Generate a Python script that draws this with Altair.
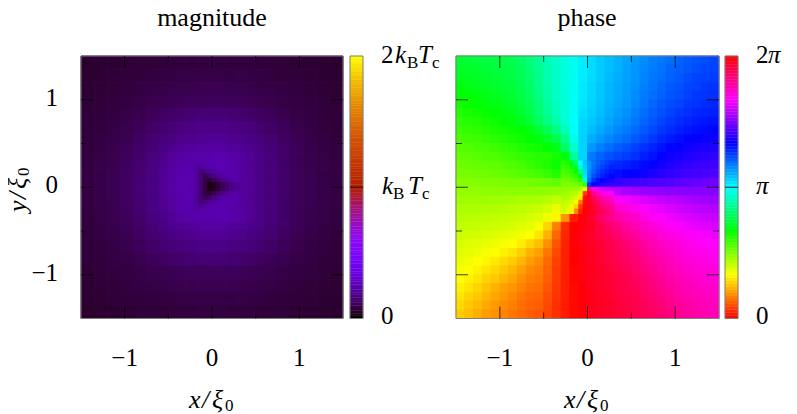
import altair as alt
import pandas as pd

FONT = "Liberation Serif"

# Grid edges in units of xi_0
grid_edges = [-1.5, -1.35, -1.2, -1.05, -0.9, -0.75, -0.6, -0.5, -0.4, -0.3, -0.2, -0.1, 0,
              0.1, 0.2, 0.3, 0.4, 0.5, 0.6, 0.75, 0.9, 1.05, 1.2, 1.35, 1.5]
phase_edges = [-1.5, -1.4, -1.3, -1.2, -1.1, -1.0, -0.9, -0.8, -0.7, -0.6, -0.5, -0.4, -0.3, -0.2, -0.1, 0,
               0.1, 0.2, 0.3, 0.4, 0.5, 0.6, 0.7, 0.8, 0.9, 1.0, 1.1, 1.2, 1.3, 1.4, 1.5]
core_edges = [-0.3, -0.25, -0.2, -0.15, -0.1, -0.05, 0, 0.05, 0.1, 0.15, 0.2, 0.25, 0.3]

# Magnitude (thousandths of the colour range), rows top to bottom
magnitude_rows = [
    [29,31,33,34,36,37,38,39,40,40,41,41,41,41,40,40,39,38,37,36,34,33,31,29],
    [31,33,35,37,38,40,42,43,44,45,45,45,45,45,45,44,43,42,40,38,37,35,33,31],
    [33,35,37,39,42,44,46,48,49,50,51,52,52,51,50,49,48,46,44,42,39,37,35,33],
    [34,37,39,42,45,49,52,54,56,58,58,59,59,58,58,56,54,52,49,45,42,39,37,34],
    [36,38,42,45,50,57,62,66,69,72,74,75,75,74,72,69,66,62,57,50,45,42,38,36],
    [37,40,44,49,57,65,72,77,81,84,87,88,88,87,84,81,77,72,65,57,49,44,40,37],
    [38,42,46,52,62,72,79,85,91,95,98,100,100,98,95,91,85,79,72,62,52,46,42,38],
    [39,43,48,56,66,76,85,92,98,104,108,110,110,108,104,98,92,85,76,66,56,48,43,39],
    [40,44,49,58,68,80,90,102,112,115,119,118,119,122,116,108,97,88,78,66,56,49,44,40],
    [41,45,50,60,71,83,94,107,117,120,100,115,122,125,118,108,98,88,78,66,57,50,45,41],
    [42,46,51,61,73,85,97,110,120,122,88,70,95,115,117,108,98,89,79,67,58,51,46,42],
    [42,46,52,62,74,86,98,112,122,124,88,25,30,55,85,102,97,89,79,67,58,52,46,42],
    [42,46,52,62,74,86,98,112,122,124,88,25,30,55,85,102,97,89,79,67,58,52,46,42],
    [42,46,51,61,73,85,97,110,120,122,88,70,95,115,117,108,98,89,79,67,58,51,46,42],
    [41,45,50,60,71,83,94,107,117,120,100,115,122,125,118,108,98,88,78,66,57,50,45,41],
    [40,44,49,58,68,80,90,102,112,115,119,118,119,122,116,108,97,88,78,66,56,49,44,40],
    [39,43,48,56,66,76,85,92,98,104,108,110,110,108,104,98,92,85,76,66,56,48,43,39],
    [38,42,46,52,62,72,79,85,91,95,98,100,100,98,95,91,85,79,72,62,52,46,42,38],
    [37,40,44,49,57,65,72,77,81,84,87,88,88,87,84,81,77,72,65,57,49,44,40,37],
    [36,38,42,45,50,57,62,66,69,72,74,75,75,74,72,69,66,62,57,50,45,42,38,36],
    [34,37,39,42,45,49,52,54,56,58,58,59,59,58,58,56,54,52,49,45,42,39,37,34],
    [33,35,37,39,42,44,46,48,49,50,51,52,52,51,50,49,48,46,44,42,39,37,35,33],
    [31,33,35,37,38,40,42,43,44,45,45,45,45,45,45,44,43,42,40,38,37,35,33,31],
    [29,31,33,34,36,37,38,39,40,40,41,41,41,41,40,40,39,38,37,36,34,33,31,29],
]
magnitude_core = [
    [118,117,112,118,121,122,123,124,124,121,117,112],
    [121,118,106,98,111,118,121,123,125,123,118,114],
    [124,120,105,76,85,98,111,118,121,122,120,116],
    [124,120,105,76,52,69,85,98,111,118,120,118],
    [124,120,105,76,44,35,53,70,86,99,111,116],
    [124,120,105,76,44,12,18,35,53,70,86,98],
    [124,120,105,76,44,12,18,35,53,70,86,98],
    [124,120,105,76,44,35,53,70,86,99,111,116],
    [124,120,105,76,52,69,85,98,111,118,120,118],
    [124,120,105,76,85,98,111,118,121,122,120,116],
    [121,118,106,98,111,118,121,123,125,123,118,114],
    [118,117,112,118,121,122,123,124,124,121,117,112],
]

# Phase (degrees of the colour wheel), rows top to bottom
phase_rows = [
    [132,133,134,135,136,137,139,143,148,155,163,168,172,177,184,188,192,195,198,201,204,207,210,212,214,217,219,221,222,224],
    [129,130,131,133,134,135,137,141,147,154,162,167,172,177,184,188,192,195,198,202,205,208,211,213,216,218,220,222,224,225],
    [126,127,129,131,132,134,136,140,145,153,161,167,172,177,184,188,192,196,199,202,205,209,212,214,217,219,222,224,225,226],
    [123,124,126,128,130,132,134,138,144,152,160,166,172,177,185,189,193,197,200,203,206,210,213,216,219,221,224,225,227,228],
    [120,121,123,125,127,129,132,136,142,150,159,166,171,177,185,189,193,197,200,203,207,211,214,217,220,222,225,227,228,229],
    [117,118,120,122,124,126,129,134,140,148,157,165,171,178,186,190,194,198,201,204,208,212,216,219,222,224,227,228,230,231],
    [113,115,117,119,121,123,126,131,137,146,155,163,171,179,187,191,195,199,203,206,210,214,218,221,224,227,229,231,232,233],
    [110,111,113,115,117,120,123,127,133,142,151,160,170,180,189,193,197,201,205,208,212,216,220,224,227,230,232,234,235,236],
    [107,108,110,112,114,116,118,120,124,131,140,150,163,178,190,195,200,204,208,211,215,219,223,227,230,233,235,237,238,239],
    [103,105,106,108,110,112,114,117,120,123,129,137,152,175,190,199,204,208,212,215,219,223,227,231,234,237,239,241,242,243],
    [100,101,103,104,106,108,110,113,115,117,120,126,143,168,190,204,210,214,218,221,225,229,232,236,239,241,243,245,246,247],
    [97,98,99,101,102,104,106,108,110,111,112,116,122,155,190,211,217,221,224,226,229,233,236,240,243,245,247,249,250,251],
    [94,95,96,97,98,100,102,104,107,110,113,118,125,150,195,221,225,229,231,233,235,238,241,244,247,249,251,253,254,255],
    [92,92,93,94,95,96,98,100,102,104,107,112,122,140,205,228,232,235,237,239,241,243,246,249,251,253,255,256,257,258],
    [89,89,89,90,90,91,92,92,93,94,95,97,100,115,190,235,245,250,252,254,255,256,257,258,259,261,262,264,265,266],
    [86,86,86,87,87,87,87,87,87,87,86,85,85,75,30,300,295,288,283,280,278,276,275,274,273,273,272,272,271,271],
    [83,83,83,83,82,82,81,80,80,79,77,74,68,50,15,335,318,308,302,298,295,292,289,287,285,283,281,279,278,277],
    [80,80,80,79,79,78,77,76,75,73,70,65,50,22,3,345,330,320,313,308,304,300,297,294,292,289,287,285,283,282],
    [77,77,76,76,75,74,73,72,70,68,63,58,35,6,358,350,338,329,322,316,312,307,303,300,297,294,292,290,288,287],
    [75,74,74,73,72,71,70,68,66,62,50,30,10,0,356,352,343,335,329,323,318,313,309,305,302,299,297,294,293,292],
    [72,71,70,69,68,66,65,63,60,54,42,24,9,359,355,350,345,340,334,328,323,318,314,310,307,304,302,299,298,296],
    [70,68,67,65,64,62,60,56,50,45,34,20,8,359,355,351,347,343,338,333,328,323,318,314,311,308,305,303,301,300],
    [68,66,64,62,60,57,54,49,42,38,28,17,7,0,356,352,348,344,340,335,331,326,321,317,314,311,308,306,304,303],
    [65,63,60,58,55,52,48,43,37,33,25,15,7,0,356,352,349,345,341,337,333,329,324,320,316,313,310,308,306,305],
    [62,60,57,54,51,47,43,38,33,30,23,14,7,1,357,353,350,347,343,340,336,331,327,322,318,315,313,310,309,308],
    [60,57,54,50,47,43,39,34,30,28,22,14,7,1,357,353,351,348,345,342,338,334,329,325,321,317,315,312,311,310],
    [57,54,50,46,42,38,35,31,27,26,20,13,7,2,358,353,351,348,345,342,339,335,331,327,323,320,317,315,313,312],
    [54,50,47,43,39,36,32,28,25,24,18,12,7,2,358,354,352,349,346,344,341,338,334,330,326,322,319,317,315,314],
    [51,47,44,40,36,33,30,26,23,22,17,11,6,2,358,354,352,350,347,345,342,339,336,332,328,324,321,319,317,316],
    [48,45,41,37,34,31,28,25,22,20,16,11,6,2,358,354,352,350,347,345,342,340,337,334,330,326,323,320,318,317],
]
phase_core = [
    [110,114,125,149,180,193,205,212,217,221,225,228],
    [106,110,116,131,171,192,205,214,220,224,228,232],
    [102,106,110,118,153,189,207,216,224,228,232,235],
    [98,101,104,110,126,186,209,221,228,232,236,239],
    [94,95,97,102,110,171,214,228,235,240,243,245],
    [90,90,91,93,95,110,228,243,247,249,251,252],
    [86,86,85,85,81,70,328,303,296,291,287,285],
    [83,82,80,77,70,15,348,328,316,308,303,300],
    [80,78,74,70,54,3,352,339,328,321,314,310],
    [76,73,70,63,29,2,353,345,335,328,322,317],
    [73,70,65,49,15,1,354,348,341,333,328,323],
    [70,66,57,33,8,0,355,350,344,339,333,328],
]

# Colour scales
mag_stops = [0, 10, 25, 50, 75, 100, 150, 200, 250, 300, 350, 400, 450, 500, 600, 700, 800, 900, 1000]
mag_colors = ["#000000", "#190010", "#280028", "#39004f", "#460075", "#510096", "#6301ce", "#7202f3",
              "#8004ff", "#8c07f3", "#970bce", "#a11096", "#ab174f", "#b42000", "#c53700", "#d55700",
              "#e48300", "#f2ba00", "#ffff00"]
hue_stops = [0, 60, 120, 180, 240, 300, 360]
hue_colors = ["#ff0000", "#ffff00", "#00ff00", "#00ffff", "#0000ff", "#ff00ff", "#ff0000"]

major_ticks = [-1, 0, 1]
minor_ticks = [-0.5, 0.5]

# Panel geometry (pixels in the chart)
TOP, BOTTOM = 48, 310.5
LEFT_RANGE = [73, 335]
RIGHT_RANGE = [448, 711]
CBAR_LEFT = (342, 355)
CBAR_RIGHT = (717, 730)
DOM = [-1.5, 1.5]


def sx(rng):
    return alt.Scale(domain=DOM, range=rng, nice=False, zero=False)


SY = alt.Scale(domain=DOM, range=[BOTTOM, TOP], nice=False, zero=False)


def cells(rows, edges):
    recs = []
    for r, row in enumerate(rows):
        for c, v in enumerate(row):
            recs.append({"x": edges[c], "x2": edges[c + 1],
                         "y": edges[len(rows) - r], "y2": edges[len(rows) - r - 1], "v": v})
    return pd.DataFrame(recs)


def heat(rows, edges, rng, stops, colors):
    cs = alt.Scale(domain=stops, range=colors, interpolate="rgb", clamp=True)
    return alt.Chart(cells(rows, edges)).mark_rect(strokeWidth=1).encode(
        x=alt.X("x:Q", scale=sx(rng), axis=None),
        x2="x2:Q",
        y=alt.Y("y:Q", scale=SY, axis=None),
        y2="y2:Q",
        fill=alt.Fill("v:Q", scale=cs, legend=None),
        stroke=alt.Stroke("v:Q", scale=cs, legend=None),
    )


def cbar(levels, step, top, px, stops, colors):
    cs = alt.Scale(domain=stops, range=colors, interpolate="rgb", clamp=True)
    df = pd.DataFrame({"a": levels, "b": [l + step for l in levels], "c": [l + step / 2 for l in levels]})
    return alt.Chart(df).mark_rect(strokeWidth=0.4).encode(
        x=alt.value(px[0]), x2=alt.value(px[1]),
        y=alt.Y("a:Q", scale=alt.Scale(domain=[0, top], range=[BOTTOM, TOP], nice=False, zero=False), axis=None),
        y2="b:Q",
        fill=alt.Fill("c:Q", scale=cs, legend=None),
        stroke=alt.Stroke("c:Q", scale=cs, legend=None),
    )


def frame(rng):
    df = pd.DataFrame({"a": [DOM[0]], "b": [DOM[1]]})
    return alt.Chart(df).mark_rect(fillOpacity=0, stroke="#7f7f7f", strokeWidth=1).encode(
        x=alt.X("a:Q", scale=sx(rng), axis=None), x2="b:Q",
        y=alt.Y("a:Q", scale=SY, axis=None), y2="b:Q",
    )


def cbar_frame(px):
    df = pd.DataFrame({"a": [DOM[0]], "b": [DOM[1]]})
    return alt.Chart(df).mark_rect(fillOpacity=0, stroke="#7f7f7f", strokeWidth=1).encode(
        x=alt.value(px[0]), x2=alt.value(px[1]),
        y=alt.Y("a:Q", scale=SY, axis=None), y2="b:Q",
    )


def ticks(rng, values, length):
    df = pd.DataFrame({"t": values})
    out = []
    L, R = rng
    for y0, y1 in ((TOP, TOP + length), (BOTTOM, BOTTOM - length)):
        out.append(alt.Chart(df).mark_rule(color="#000000", strokeWidth=1, opacity=0.75).encode(
            x=alt.X("t:Q", scale=sx(rng), axis=None),
            y=alt.value(y0), y2=alt.value(y1)))
    for x0, x1 in ((L, L + length), (R, R - length)):
        out.append(alt.Chart(df).mark_rule(color="#000000", strokeWidth=1, opacity=0.75).encode(
            y=alt.Y("t:Q", scale=SY, axis=None),
            x=alt.value(x0), x2=alt.value(x1)))
    return out


def cbar_tick(px):
    df = pd.DataFrame({"t": [0]})
    return alt.Chart(df).mark_rule(color="#000000", strokeWidth=1, opacity=0.8).encode(
        y=alt.Y("t:Q", scale=SY, axis=None),
        x=alt.value(px[0]), x2=alt.value(px[1]))


def txt(s, x, y, size=25, style="normal", align="left", angle=0):
    kw = dict(angle=angle) if angle else {}
    return alt.Chart(pd.DataFrame({"s": [s]})).mark_text(
        font=FONT, fontSize=size, fontStyle=style, align=align, baseline="alphabetic",
        color="#000000", **kw
    ).encode(text="s:N", x=alt.value(x), y=alt.value(y))


def tick_labels(rng):
    df = pd.DataFrame({"t": major_ticks, "s": ["\u22121", "0", "1"]})
    return [alt.Chart(df).mark_text(font=FONT, fontSize=25, baseline="alphabetic", color="#000000").encode(
        x=alt.X("t:Q", scale=sx(rng), axis=None), y=alt.value(358), text="s:N")]


def x_label(x0):
    return [txt("x", x0, 400, size=26, style="italic"),
            txt("/", x0 + 13, 400, size=26, style="italic"),
            txt("\u03be", x0 + 23, 400, size=26, style="italic"),
            txt("0", x0 + 36, 403, size=17)]


cbar_mag_levels = list(range(0, 1000, 10))
cbar_hue_levels = list(range(0, 360, 4))

layers = [
    heat(magnitude_rows, grid_edges, LEFT_RANGE, mag_stops, mag_colors),
    heat(magnitude_core, core_edges, LEFT_RANGE, mag_stops, mag_colors),
    frame(LEFT_RANGE),
    *ticks(LEFT_RANGE, major_ticks, 12),
    *ticks(LEFT_RANGE, minor_ticks, 6),
    heat(phase_rows, phase_edges, RIGHT_RANGE, hue_stops, hue_colors),
    heat(phase_core, core_edges, RIGHT_RANGE, hue_stops, hue_colors),
    frame(RIGHT_RANGE),
    *ticks(RIGHT_RANGE, major_ticks, 12),
    *ticks(RIGHT_RANGE, minor_ticks, 6),
    cbar(cbar_mag_levels, 10, 1000, CBAR_LEFT, mag_stops, mag_colors),
    cbar_frame(CBAR_LEFT),
    cbar_tick(CBAR_LEFT),
    cbar(cbar_hue_levels, 4, 360, CBAR_RIGHT, hue_stops, hue_colors),
    cbar_frame(CBAR_RIGHT),
    cbar_tick(CBAR_RIGHT),
    *tick_labels(LEFT_RANGE),
    *tick_labels(RIGHT_RANGE),
    txt("1", 50, 98, align="right"),
    txt("0", 50, 185, align="right"),
    txt("\u22121", 50, 273, align="right"),
    txt("magnitude", 204, 18, size=26, align="center"),
    txt("phase", 579, 18, size=26, align="center"),
    *x_label(181),
    *x_label(556),
    txt("y", 18, 204, size=26, style="italic", angle=270),
    txt("/", 18, 191, size=26, style="italic", angle=270),
    txt("\u03be", 18, 181, size=26, style="italic", angle=270),
    txt("0", 21, 168, size=17, angle=270),
    txt("2", 373, 55),
    txt("k", 387, 55, style="italic"),
    txt("B", 399, 60, size=17),
    txt("T", 410, 55, style="italic"),
    txt("c", 424, 60, size=17),
    txt("k", 374, 186, style="italic"),
    txt("B", 385, 191, size=17),
    txt("T", 400, 186, style="italic"),
    txt("c", 414, 191, size=17),
    txt("0", 373, 316),
    txt("2", 748, 55),
    txt("\u03c0", 760, 55, style="italic"),
    txt("\u03c0", 748, 186, style="italic"),
    txt("0", 748, 316),
]

chart = alt.layer(*layers).resolve_scale(
    x="independent", y="independent", fill="independent", stroke="independent"
).properties(
    width=781, height=406, padding=0, autosize=alt.AutoSizeParams(type="none")
).configure_view(strokeWidth=0)

chart.save("out.html", embed_options={"renderer": "svg", "actions": False})
